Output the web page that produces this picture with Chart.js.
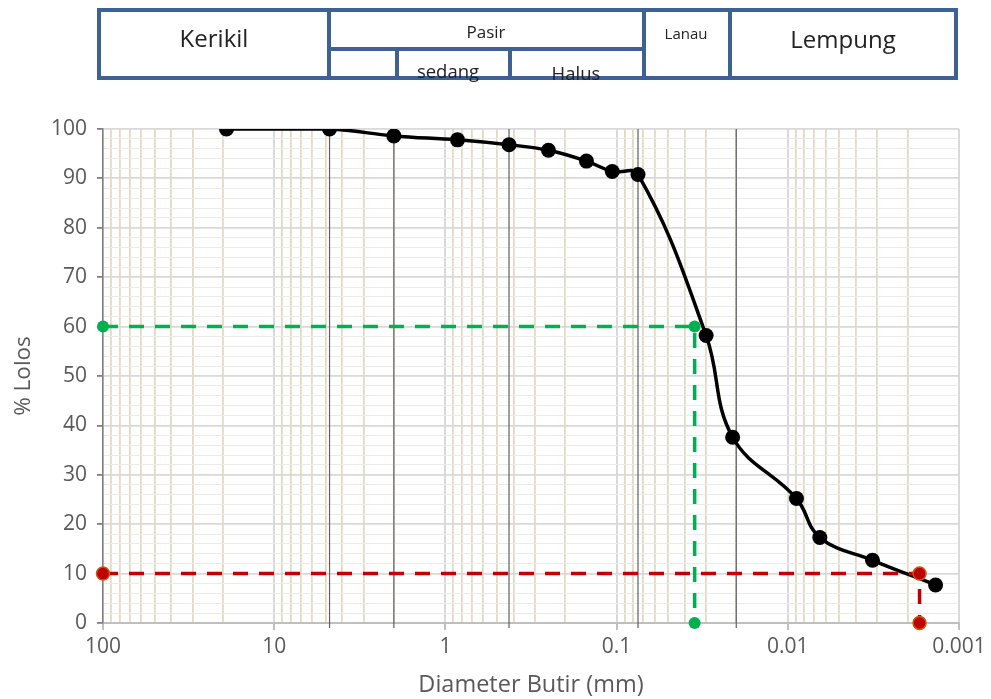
<!DOCTYPE html>
<html><head><meta charset="utf-8">
<script src="https://cdn.jsdelivr.net/npm/chart.js@4.4.0/dist/chart.umd.min.js"></script>
<style>
html,body{margin:0;padding:0;background:#fff;width:991px;height:699px;overflow:hidden;font-family:'Open Sans',sans-serif;}
#c{position:absolute;left:0;top:0;}
.b{position:absolute;box-sizing:border-box;border:4px solid #3d6291;background:#fff;}
.t{position:absolute;transform:translate(-50%,-50%);white-space:nowrap;color:#222;line-height:1;z-index:5;}
</style></head><body>
<canvas id="c" width="991" height="699"></canvas>
<div class="b" style="left:97px;top:8px;width:234px;height:72px"></div>
<div class="b" style="left:327px;top:8px;width:319px;height:43px"></div>
<div class="b" style="left:327px;top:47px;width:72px;height:33px"></div>
<div class="b" style="left:395px;top:47px;width:117px;height:33px"></div>
<div class="b" style="left:508px;top:47px;width:138px;height:33px"></div>
<div class="b" style="left:642px;top:8px;width:90px;height:72px"></div>
<div class="b" style="left:728px;top:8px;width:230px;height:72px"></div>
<div class="t" style="left:214px;top:38px;font-size:24px">Kerikil</div>
<div class="t" style="left:486px;top:31px;font-size:17px">Pasir</div>
<div class="t" style="left:686px;top:33px;font-size:15px">Lanau</div>
<div class="t" style="left:843px;top:39px;font-size:24px">Lempung</div>
<div class="t" style="left:448px;top:71px;font-size:18.5px">sedang</div>
<div class="t" style="left:576px;top:73px;font-size:18.5px">Halus</div>
<script>
// ---- data ----
const diameters = [19.0, 4.75, 2.0, 0.85, 0.425, 0.25, 0.15, 0.106, 0.075, 0.03, 0.021, 0.0089, 0.0065, 0.0032, 0.00137];
const percentPassing = [100, 100, 98.6, 97.8, 96.8, 95.7, 93.5, 91.4, 90.8, 58.2, 37.6, 25.2, 17.3, 12.7, 7.7];
const sieveLines = [4.75, 2.0, 0.425, 0.075, 0.02];
const d60X = [100, 0.035, 0.035];
const d60Y = [60, 60, 0];
const d10X = [100, 0.0017, 0.0017];
const d10Y = [10, 10, 0];
const xDecades = [100, 10, 1, 0.1, 0.01, 0.001];
const xTickLabels = ['100', '10', '1', '0.1', '0.01', '0.001'];
const yMin = 0, yMax = 100, yStepMinor = 2, yStepMajor = 10;

const zip = (xs, ys) => xs.map((x, i) => ({x: x, y: ys[i]}));
const mainPts = zip(diameters, percentPassing);

// all log ticks: decades plus 2..9 multiples
function buildXTicks() {
  const t = [];
  xDecades.forEach((d, i) => {
    t.push({value: d, major: true, lbl: xTickLabels[i]});
    if (d < 100) {
      for (let m = 2; m <= 9; m++) t.push({value: m * d, major: false, lbl: ''});
    }
  });
  return t.sort((a, b) => a.value - b.value);
}
const xTicks = buildXTicks();

const sieveSets = sieveLines.map(s => ({
  data: [{x: s, y: -1}, {x: s, y: 100}],
  showLine: true, borderColor: '#606060', borderWidth: 1.2, pointRadius: 0, clip: false
}));

Chart.defaults.font.family = "'Open Sans', sans-serif";
Chart.defaults.color = '#595959';

new Chart(document.getElementById('c'), {
  type: 'scatter',
  data: {
    datasets: [
      {data: mainPts, showLine: false, pointRadius: 7.5, pointBackgroundColor: '#000', pointBorderColor: '#000', pointBorderWidth: 0},
      {data: zip(d10X, d10Y), showLine: true, borderColor: '#c00000', borderWidth: 3.5, borderDash: [15, 11],
       pointRadius: 6.5, pointBackgroundColor: '#c00000', pointBorderColor: '#c55a11', pointBorderWidth: 1.5, clip: false},
      {data: zip(d60X, d60Y), showLine: true, borderColor: '#00b050', borderWidth: 3.5, borderDash: [15, 11],
       pointRadius: 6, pointBackgroundColor: '#00b050', pointBorderColor: '#00b050', pointBorderWidth: 0, clip: false},
      {data: mainPts, showLine: true, tension: 0.4, borderColor: '#000', borderWidth: 3.5, pointRadius: 0},
      ...sieveSets
    ]
  },
  options: {
    responsive: false, animation: false, devicePixelRatio: 1,
    layout: {padding: {top: 129, right: 32, left: 0, bottom: 0}},
    plugins: {legend: {display: false}, tooltip: {enabled: false}},
    scales: {
      x: {
        type: 'logarithmic', min: 0.001, max: 100, reverse: true,
        afterBuildTicks: s => { s.ticks = xTicks.map(t => ({value: t.value, major: t.major, lbl: t.lbl})); },
        afterFit: s => { s.height = 76; },
        ticks: {
          autoSkip: false, maxRotation: 0, padding: 4, font: {size: 21}, color: '#595959',
          callback: (v, i, ts) => ts[i].lbl || ''
        },
        grid: {
          color: c => (c.tick && c.tick.major) ? '#d9d9d9' : '#e2dac3',
          lineWidth: c => (c.tick && c.tick.major) ? 2 : 1.8,
          tickLength: 7,
          tickColor: c => (c.tick && c.tick.major) ? '#bfbfbf' : 'rgba(0,0,0,0)'
        },
        border: {display: true, color: '#bfbfbf', width: 2},
        title: {display: true, text: 'Diameter Butir (mm)', font: {size: 23.5}, color: '#595959', padding: {top: 0, bottom: 0}}
      },
      y: {
        type: 'linear', min: yMin, max: yMax,
        afterFit: s => { s.width = 103; },
        ticks: {
          stepSize: yStepMinor, autoSkip: false, padding: 10, font: {size: 21}, color: '#595959',
          callback: v => (v % yStepMajor === 0) ? String(v) : ''
        },
        grid: {
          color: c => (c.tick && c.tick.value % yStepMajor === 0) ? '#d9d9d9' : '#ebebeb',
          lineWidth: c => (c.tick && c.tick.value % yStepMajor === 0) ? 1.8 : 1,
          tickLength: 6,
          tickColor: c => (c.tick && c.tick.value % yStepMajor === 0) ? '#808080' : 'rgba(0,0,0,0)'
        },
        border: {display: true, color: '#7f7f7f', width: 1.5},
        title: {display: true, text: '% Lolos', font: {size: 22.5}, color: '#595959', padding: {top: 10, bottom: 0}}
      }
    }
  }
});
</script>
</body></html>
